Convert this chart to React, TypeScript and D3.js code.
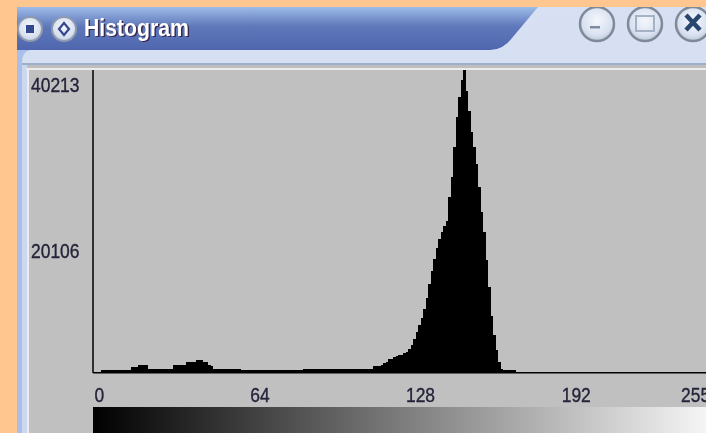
import React from "react";
import * as d3 from "d3";

const title = "Histogram";
const yTicks = [40213, 20106];
const xTicks = [0, 64, 128, 192, 255];
const maxBin = 255;
const maxCount = 40213;

const countsLow = [
  70, 70, 70, 270, 270, 270, 270, 270, 270, 270, 270, 270, 270, 270, 270,
  670, 670, 670, 940, 940, 940, 940,
  530, 530, 530, 530, 530, 530, 530, 530, 530, 530,
  940, 940, 940, 940, 940, 1340, 1340, 1340, 1450, 1610, 1610, 1610, 1460, 1340, 1060, 800,
  530, 530, 530, 530, 530, 530, 530, 530, 530, 530, 530,
  270, 270, 270, 270, 270, 270, 270, 270, 270, 270, 270, 270, 270, 270, 270, 270, 270, 270, 270, 270, 270, 270, 270, 270, 270,
  530, 530, 530, 530, 530, 530, 530, 530, 530, 530, 530, 530, 530, 530, 530, 530, 530, 530, 530, 530, 530, 530, 530, 530, 530, 530, 530, 530,
  800, 800, 800,
];
const countsPeak = [
  1060, 1200, 1460, 1730, 1860, 2000, 2130, 2260, 2390, 2530, 2660, 3060, 3590, 4390, 5320, 6250, 7180,
  8380, 9840, 11700, 13430, 15030, 16490, 17690, 18620, 19420, 20080, 23280, 25940, 29930, 33920, 36580,
  38840, 40213, 37370, 34710, 31920, 29930, 27660, 24610, 21280, 18620, 14900, 11300, 7450, 4920, 2930,
  1460, 530, 270, 270, 270, 270, 270, 130, 130, 130, 130,
];
const counts = [...countsLow, ...countsPeak];

const W = 706;
const H = 433;
const x = d3.scaleLinear().domain([0, maxBin + 1]).range([93, 93 + 2.5 * (maxBin + 1)]);
const y = d3.scaleLinear().domain([0, maxCount]).range([372.5, 70]);
const labelX = d3.scaleLinear().domain([0, maxBin]).range([94.5, 715]);
const digitW = 9.7;

const buttons: [number, number, number][] = [
  [30, 29, 12],
  [64, 29, 12],
];
const rightButtons = [597, 645, 693];

function Num({ v, px, py }: { v: number; px: number; py: number }) {
  const s = String(v);
  return (
    <text
      x={px}
      y={py}
      fontSize={20}
      fill="#23233A"
      stroke="#23233A"
      strokeWidth={0.35}
      textLength={s.length * digitW}
      lengthAdjust="spacingAndGlyphs"
    >
      {s}
    </text>
  );
}

export default function App() {
  const rampStops = d3.range(0, 1.01, 0.25);
  return (
    <svg
      width={W}
      height={H}
      viewBox={`0 0 ${W} ${H}`}
      style={{ position: "absolute", left: 0, top: 0, display: "block" }}
      fontFamily="'Liberation Sans', Arial, sans-serif"
    >
      <defs>
        <linearGradient id="tb" x1="0" y1="0" x2="0" y2="1">
          <stop offset="0" stopColor="#9DBBE8" />
          <stop offset="0.45" stopColor="#5F78BA" />
          <stop offset="1" stopColor="#4F66AE" />
        </linearGradient>
        <linearGradient id="fr" x1="0" y1="0" x2="0" y2="1">
          <stop offset="0" stopColor="#D8E1F3" />
          <stop offset="1" stopColor="#C6D3EC" />
        </linearGradient>
        <linearGradient id="ramp" x1="0" y1="0" x2="1" y2="0">
          {rampStops.map((t) => (
            <stop key={t} offset={t} stopColor={d3.interpolateRgb("#000", "#fff")(t)} />
          ))}
        </linearGradient>
        <radialGradient id="btn" cx="0.5" cy="0.4" r="0.6">
          <stop offset="0" stopColor="#F4F7FC" />
          <stop offset="0.75" stopColor="#D8E0F0" />
          <stop offset="1" stopColor="#B9C4D6" />
        </radialGradient>
        <filter id="soft" x="0" y="0" width="100%" height="100%" colorInterpolationFilters="sRGB">
          <feGaussianBlur stdDeviation="0.55" />
        </filter>
      </defs>
      <rect width={W} height={H} fill="#FFC68F" />
      <g filter="url(#soft)">
        <rect x={17} y={7} width={W + 10} height={H} fill="url(#fr)" />
        <path d="M17,7 H538 L512,38 Q503,50 490,50 H17 Z" fill="url(#tb)" />
        <rect x={17} y={50} width={5} height={H} fill="#8EA6DC" />
        <path d="M17,50 H30 Q22,52 22,62 V440 H17 Z" fill="#A9BEE8" />
        <rect x={22} y={63} width={W} height={2} fill="#9DAFCB" />
        <rect x={22} y={65} width={W} height={3} fill="#BEBEBE" />
        <rect x={22} y={65} width={5} height={H} fill="#CBD8F0" />
        <rect x={26} y={68} width={W} height={2} fill="#ECECEC" />
        <rect x={27} y={68} width={2} height={H} fill="#ECECEC" />
        <rect x={29} y={70} width={W} height={H} fill="#C0C0C0" />

        {buttons.map(([cx, cy, r], i) => (
          <circle key={i} cx={cx} cy={cy} r={r} fill="url(#btn)" stroke="#8E9AB0" strokeWidth={2} />
        ))}
        <rect x={26} y={25} width={8} height={8} fill="#33478E" />
        <path d="M64,23 L69,29 L64,35 L59,29 Z" fill="none" stroke="#33478E" strokeWidth={2.2} />
        {rightButtons.map((cx) => (
          <circle key={cx} cx={cx} cy={24} r={17} fill="url(#btn)" stroke="#7F8A99" strokeWidth={2.5} />
        ))}
        <rect x={590} y={26} width={10} height={2.5} fill="#7E8B9F" />
        <rect x={636} y={16} width={18} height={15} fill="none" stroke="#A5B2C6" strokeWidth={2} />
        <path d="M686,15 L700,30 M700,15 L686,30" stroke="#28466F" strokeWidth={4.5} />
        <rect x={17} y={0} width={W} height={7} fill="#FFC68F" />

        <text x={85.5} y={37} fontSize={24} fontWeight="bold" fill="#3A2A50" textLength={105} lengthAdjust="spacingAndGlyphs">{title}</text>
        <text x={84} y={35.5} fontSize={24} fontWeight="bold" fill="#FFFFFF" textLength={105} lengthAdjust="spacingAndGlyphs">{title}</text>

        <g shapeRendering="crispEdges">
          {counts.map((c, i) => (
            <rect key={i} x={x(i)} y={y(c)} width={x(i + 1) - x(i)} height={y(0) - y(c)} fill="#000" />
          ))}
        </g>
        <line x1={93} y1={70} x2={93} y2={373} stroke="#000" strokeWidth={1.5} />
        <line x1={93} y1={372.8} x2={W + 10} y2={372.8} stroke="#000" strokeWidth={1.5} />

        {yTicks.map((t, i) => (
          <Num key={t} v={t} px={31} py={i === 0 ? 92 : 258} />
        ))}
        {xTicks.map((t) => (
          <Num key={t} v={t} px={Math.min(labelX(t), 681)} py={401.5} />
        ))}
        <rect x={93} y={407} width={637} height={30} fill="url(#ramp)" />
      </g>
    </svg>
  );
}
